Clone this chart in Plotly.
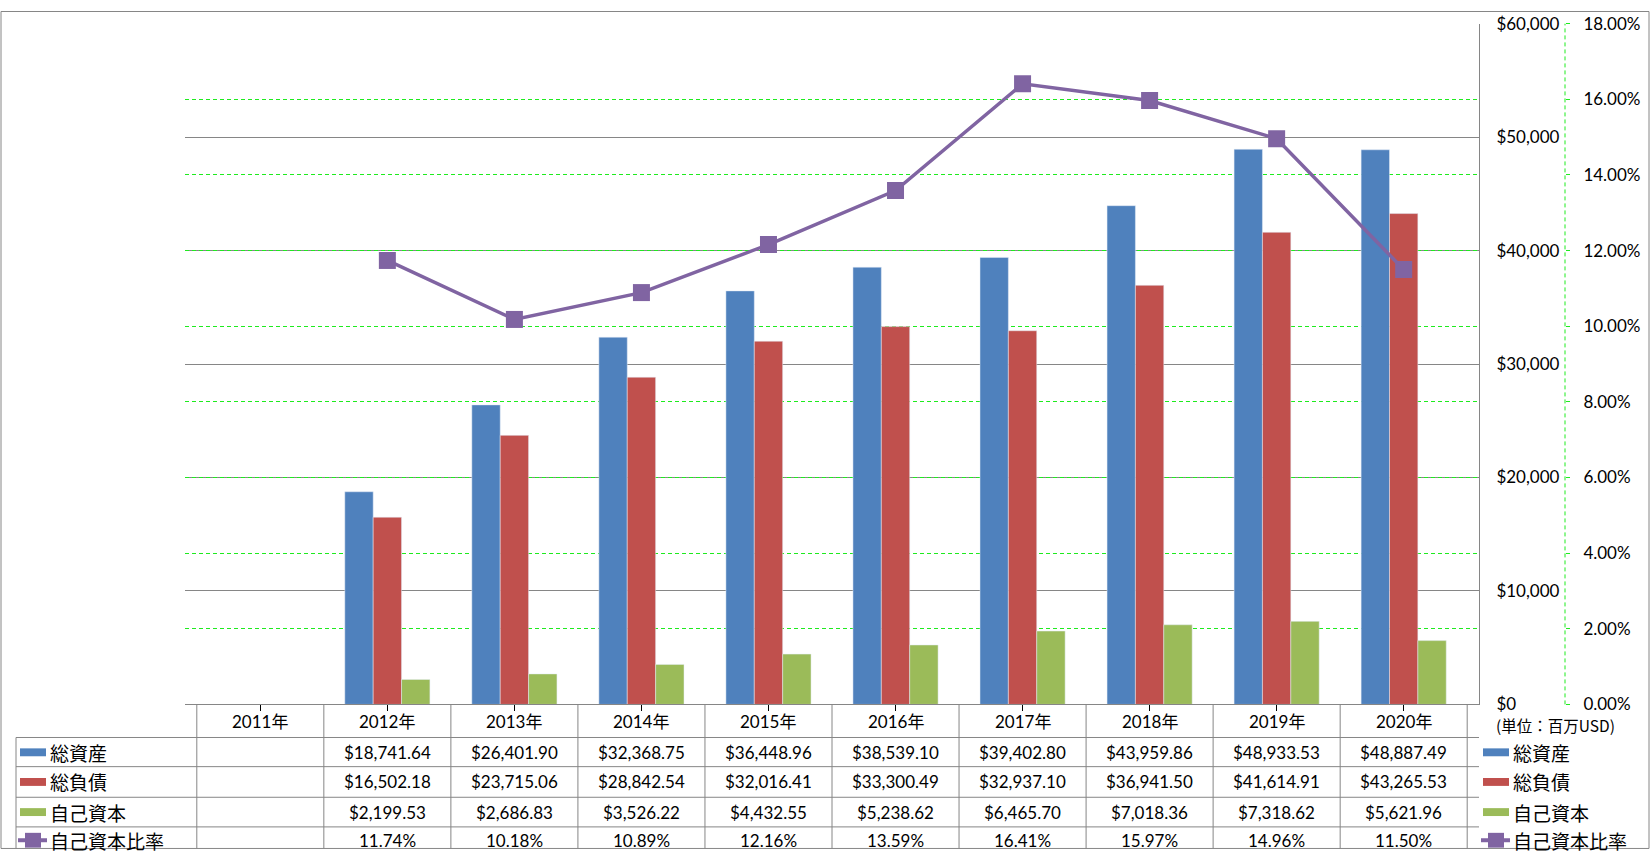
import plotly.graph_objects as go

# ---------------- data ----------------
years = ["2011年", "2012年", "2013年", "2014年", "2015年", "2016年", "2017年", "2018年", "2019年", "2020年"]
total_assets = [None, 18741.64, 26401.90, 32368.75, 36448.96, 38539.10, 39402.80, 43959.86, 48933.53, 48887.49]
total_liabilities = [None, 16502.18, 23715.06, 28842.54, 32016.41, 33300.49, 32937.10, 36941.50, 41614.91, 43265.53]
equity = [None, 2199.53, 2686.83, 3526.22, 4432.55, 5238.62, 6465.70, 7018.36, 7318.62, 5621.96]
equity_ratio_pct = [None, 11.74, 10.18, 10.89, 12.16, 13.59, 16.41, 15.97, 14.96, 11.50]
series_names = ["総資産", "総負債", "自己資本", "自己資本比率"]
unit_label = "(単位：百万USD)"

# ---------------- style ----------------
W, H = 1651, 858
C_BLUE, C_RED, C_GREEN, C_PURPLE = "#4F81BD", "#C0504D", "#9BBB59", "#8064A2"
GRID_GRAY = "#868686"
GRID_GREEN = "#1EEB1E"
FONT = "Lato, 'Noto Sans CJK JP', sans-serif"
JFONT = "'Noto Sans CJK JP', sans-serif"

# paper spans x: 1..1649, y: 1..856 (figure pixels)
PL, PR, PT, PB = 1, 1649, 1, 856
# vertical compensation for the page capture (measured)
VS, VO = 1.01159, -0.15
def px(x):
    return (x - PL) / (PR - PL)
def pyf(fig_y):
    return (PB - fig_y) / (PB - PT)
def py(y_target):
    return pyf(VS * y_target + VO)

PLOT_L, PLOT_R, PLOT_T, PLOT_B = 185, 1479, 13, 702
Y2_X = 1565
FIG_TOP = pyf(0.5)
FIG_BOT = pyf(H - 0.5)

fig = go.Figure()
fig.add_trace(go.Bar(x=years, y=total_assets, name=series_names[0], marker_color=C_BLUE, showlegend=False))
fig.add_trace(go.Bar(x=years, y=total_liabilities, name=series_names[1], marker_color=C_RED, showlegend=False))
fig.add_trace(go.Bar(x=years, y=equity, name=series_names[2], marker_color=C_GREEN, showlegend=False))
fig.add_trace(go.Scatter(
    x=years, y=[None if v is None else v / 100 for v in equity_ratio_pct], name=series_names[3],
    yaxis="y2", mode="lines+markers",
    line=dict(color=C_PURPLE, width=3.5),
    marker=dict(symbol="square", size=17, color=C_PURPLE),
    showlegend=False, connectgaps=False))

fig.update_layout(
    width=W, height=H,
    margin=dict(l=PL, r=W - PR, t=PT, b=H - PB, pad=0),
    paper_bgcolor="white", plot_bgcolor="white",
    barmode="group", bargap=0.33, bargroupgap=0,
    showlegend=False,
    font=dict(family=FONT, size=17, color="black"),
    xaxis=dict(domain=[px(PLOT_L), px(PLOT_R)], showgrid=False, zeroline=False,
               showline=True, linecolor=GRID_GRAY, linewidth=1,
               ticks="outside", ticklen=6, tickcolor="black", tickwidth=1,
               showticklabels=False, fixedrange=True),
    yaxis=dict(domain=[py(PLOT_B), py(PLOT_T)], range=[0, 60000], dtick=10000,
               tickformat="$,.0f", side="right", ticks="", ticklabelstandoff=13,
               showgrid=True, gridcolor=GRID_GRAY, gridwidth=1, zeroline=False,
               showline=True, linecolor=GRID_GRAY, linewidth=1,
               tickfont=dict(family=FONT, size=17, color="black"), fixedrange=True),
    yaxis2=dict(overlaying="y", side="right", anchor="free", position=px(Y2_X),
                range=[0, 0.18], dtick=0.02, tickformat=".2%",
                showgrid=True, gridcolor=GRID_GREEN, gridwidth=1, griddash="4px,3px",
                zeroline=False, showline=False,
                ticks="outside", ticklen=4, tickcolor=GRID_GREEN, ticklabelstandoff=10,
                tickfont=dict(family=FONT, size=17, color="black"), fixedrange=True),
)

shapes = []
line_style = dict(color=GRID_GRAY, width=1)
# outer border
shapes.append(dict(type="rect", xref="paper", yref="paper", x0=0, x1=1, y0=FIG_BOT, y1=FIG_TOP,
                   line=line_style, layer="above"))
# secondary axis dashed line
shapes.append(dict(type="line", xref="paper", yref="paper", x0=px(Y2_X), x1=px(Y2_X),
                   y0=py(PLOT_B), y1=py(PLOT_T), line=dict(color=GRID_GREEN, width=1, dash="4px,3px")))
# table horizontal lines
row_lines = [735.5, 765, 796, 826]
for yl in row_lines:
    shapes.append(dict(type="line", xref="paper", yref="paper", x0=px(16), x1=px(PLOT_R),
                       y0=py(yl), y1=py(yl), line=line_style))
# table vertical lines
shapes.append(dict(type="line", xref="paper", yref="paper", x0=px(16), x1=px(16),
                   y0=py(735.5), y1=FIG_BOT, line=line_style))
for k in range(len(years) + 1):
    shapes.append(dict(type="line", xref="x", yref="paper", x0=k - 0.5, x1=k - 0.5,
                       y0=py(PLOT_B), y1=FIG_BOT, line=line_style))

# legend keys (left in table and right side)
row_centers = [750.5, 780.5, 811, 839.5]
bar_colors = [C_BLUE, C_RED, C_GREEN]
annotations = []
for i, yc in enumerate(row_centers):
    for (kx0, kx1, tx) in [(20, 46, 48), (1483, 1509, 1511)]:
        if i < 3:
            shapes.append(dict(type="rect", xref="paper", yref="paper", x0=px(kx0), x1=px(kx1),
                               y0=py(yc + 4), y1=py(yc - 4), fillcolor=bar_colors[i], line=dict(width=0)))
        else:
            shapes.append(dict(type="line", xref="paper", yref="paper", x0=px(kx0 - 2), x1=px(kx1 + 1),
                               y0=py(yc), y1=py(yc), line=dict(color=C_PURPLE, width=4)))
            cx = (kx0 + kx1) / 2
            shapes.append(dict(type="rect", xref="paper", yref="paper", x0=px(cx - 8), x1=px(cx + 8),
                               y0=py(yc + 7.5), y1=py(yc - 7.5), fillcolor=C_PURPLE, line=dict(width=0)))
        annotations.append(dict(xref="paper", yref="paper", x=px(tx), y=py(yc), text=series_names[i],
                                showarrow=False, xanchor="left", yanchor="middle",
                                font=dict(family=JFONT, size=19, color="black")))

# header years
for yr in years:
    annotations.append(dict(xref="x", yref="paper", x=yr, y=py(719), text=yr, showarrow=False,
                            xanchor="center", yanchor="middle", font=dict(family=FONT, size=17, color="black")))

def fmt_money(v):
    return "" if v is None else f"${v:,.2f}"
def fmt_pct(v):
    return "" if v is None else f"{v:.2f}%"

rows = [
    [fmt_money(v) for v in total_assets],
    [fmt_money(v) for v in total_liabilities],
    [fmt_money(v) for v in equity],
    [fmt_pct(v) for v in equity_ratio_pct],
]
for r, yc in enumerate(row_centers):
    for yr, txt in zip(years, rows[r]):
        if txt:
            annotations.append(dict(xref="x", yref="paper", x=yr, y=py(yc), text=txt, showarrow=False,
                                    xanchor="center", yanchor="middle",
                                    font=dict(family=FONT, size=17, color="black")))

annotations.append(dict(xref="paper", yref="paper", x=px(1494), y=py(723), text=unit_label, showarrow=False,
                        xanchor="left", yanchor="middle", font=dict(family=JFONT, size=15.5, color="black")))

fig.update_layout(shapes=shapes, annotations=annotations)
pin_js = ("document.documentElement.style.overflow='hidden';"
          "document.body.style.margin='0';document.body.style.overflow='hidden';"
          "var d=document.getElementById('{plot_id}');"
          "d.style.position='fixed';d.style.top='0px';d.style.left='0px';")
fig.write_html("out.html", config={"displayModeBar": False}, post_script=pin_js)
